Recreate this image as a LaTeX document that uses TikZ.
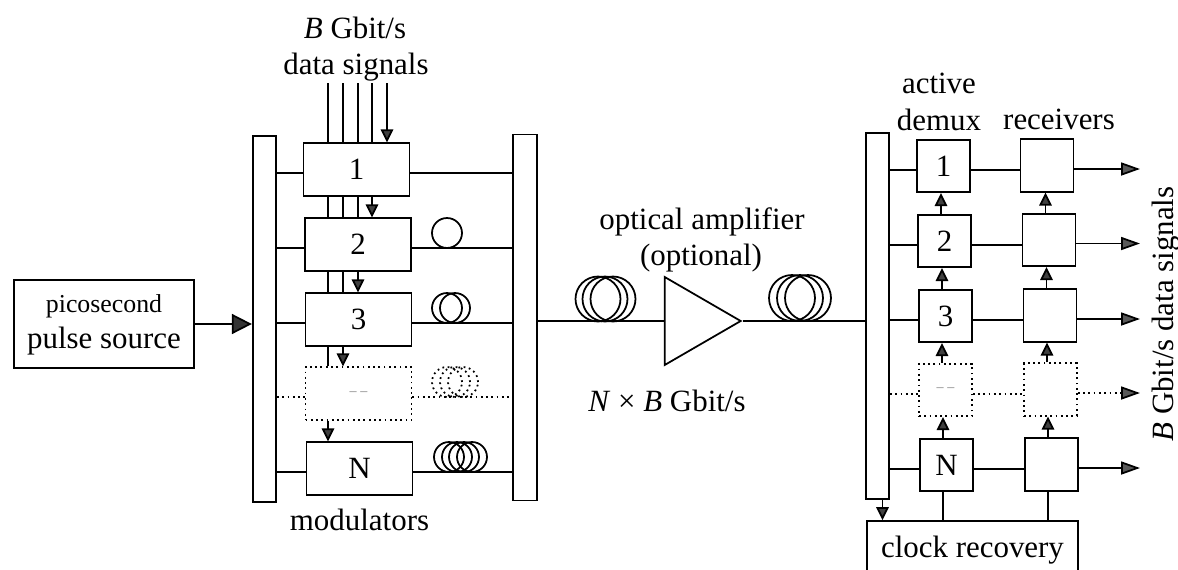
\documentclass[tikz,border=0pt]{standalone}
\usepackage{fontspec}
\setmainfont{Liberation Serif}
\usetikzlibrary{positioning, arrows.meta, shapes.geometric}

\tikzset{
    every node/.style={font=\fontsize{17.6}{21}\selectfont, inner sep=0pt},
    lab/.style={anchor=base},
    barbox/.style={draw, minimum width=0.47cm, minimum height=7.32cm},
    modbox/.style={draw, minimum width=2.12cm, minimum height=1.05cm},
    demuxbox/.style={draw, minimum width=1.06cm, minimum height=1.05cm},
    arr/.style={-{Triangle[length=0.26cm, width=0.25cm, fill=black!75]}},
    outarr/.style={-{Triangle[length=0.38cm, width=0.26cm, fill=black!65]}},
    bigarr/.style={-{Triangle[length=0.4cm, width=0.4cm, fill=black!80]}}
}
\newcommand{\gapmark}{{\fontsize{8}{9}\selectfont\color{gray}-- --}}

\begin{document}
\begin{tikzpicture}[x=0.02cm, y=-0.02cm, line width=1pt]
    \clip[use as bounding box] (0,0) rectangle (1178,569);

    % Pulse source and couplers
    \node[draw, minimum width=3.6cm, minimum height=1.76cm] (source) at (104,324) {};
    \node[lab, font=\fontsize{14.7}{18}\selectfont] (pico) at (104,312) {picosecond};
    \node[lab] (pulse) at (104,348) {pulse source};
    \node[barbox] (lbar) at (264.5,319) {};
    \node[barbox] (rbar) at (525,317.5) {};
    \node[barbox] (dbar) at (877.5,316) {};

    % Modulators
    \foreach \i/\x/\y/\s/\t in {1/356.5/169.5/solid/1, 2/358/244.5/solid/2, 3/358.5/319.5/solid/3,
                                4/358.5/393.5/dotted/\gapmark, 5/359.5/468.5/solid/N} {
        \node[modbox, \s] (m\i) at (\x,\y) {\t};
        \draw[\s] ([yshift=-0.07cm]lbar.east |- m\i.west) -- ([yshift=-0.07cm]m\i.west);
        \draw[\s] ([yshift=-0.07cm]m\i.east) -- ([yshift=-0.07cm]rbar.west |- m\i.east);
    }

    % Data signals
    \coordinate (d1) at (328,83);
    \coordinate (d2) at (343,83);
    \coordinate (d3) at (358,83);
    \coordinate (d4) at (372,83);
    \coordinate (d5) at (387,83);
    \foreach \d in {1,2,3,4} {
        \draw (d\d) -- (d\d |- m1.north);
    }
    \draw[arr] (d5) -- (d5 |- m1.north);
    \foreach \d/\a/\b in {1/1/2, 1/2/3, 1/3/4, 2/1/2, 2/2/3, 3/1/2} {
        \draw (d\d |- m\a.south) -- (d\d |- m\b.north);
    }
    \foreach \d/\a/\b in {1/4/5, 2/3/4, 3/2/3, 4/1/2} {
        \draw[arr] (d\d |- m\a.south) -- (d\d |- m\b.north);
    }

    % Fibre delay coils
    \foreach \x/\y/\r/\s in {447/233/0.3/solid, 447/308/0.3/solid, 455/308/0.3/solid,
                             447/382/0.3/dotted, 455/382/0.3/dotted, 463/382/0.3/dotted,
                             449/457/0.3/solid, 457/457/0.3/solid, 464/457/0.3/solid, 472/457/0.3/solid,
                             598/299/0.45/solid, 605/299/0.45/solid, 613/299/0.45/solid,
                             792/298/0.46/solid, 800/298/0.46/solid, 808/298/0.46/solid} {
        \draw[\s] (\x,\y) circle[radius=\r cm];
    }

    % Amplifier
    \node[draw, isosceles triangle, isosceles triangle stretches, shape border rotate=0,
          minimum width=1.76cm, minimum height=1.52cm, anchor=apex] (amp) at (743,321) {};
    \draw (rbar.east |- amp.apex) -- (amp.lower side);
    \draw (amp.apex) -- (dbar.west |- amp.apex);

    % Demux and receivers
    \foreach \i/\x/\y/\rx/\ry/\s/\t in {1/943.5/166/1047/165.5/solid/1, 2/944.5/241/1049/240/solid/2,
                                        3/945.5/316/1050/315.5/solid/3, 4/945.5/390/1050.5/389.5/dotted/\gapmark,
                                        5/946.5/465/1051.5/464.5/solid/N} {
        \node[demuxbox, \s] (x\i) at (\x,\y) {\t};
        \node[demuxbox, \s] (r\i) at (\rx,\ry) {};
        \coordinate (o\i) at (1140,\ry+3.5);
        \draw[\s] ([yshift=-0.08cm]dbar.east |- x\i.west) -- ([yshift=-0.08cm]x\i.west);
        \draw[\s] ([yshift=-0.08cm]x\i.east) -- ([yshift=-0.08cm]x\i.east -| r\i.west);
        \draw[outarr, \s] (o\i -| r\i.east) -- (o\i);
    }
    \foreach \a/\b in {5/4, 4/3, 3/2, 2/1} {
        \draw[arr] ([xshift=-0.07cm]x\a.north) -- ([xshift=-0.07cm]x\a.north |- x\b.south);
        \draw[arr] ([xshift=-0.07cm]r\a.north) -- ([xshift=-0.07cm]r\a.north |- r\b.south);
    }

    % Clock recovery
    \node[draw, minimum width=4.22cm, minimum height=1.16cm] (clock) at (972.5,550) {clock recovery};
    \draw[arr] ([xshift=0.1cm]dbar.south) -- ([xshift=0.1cm]dbar.south |- clock.north);
    \draw ([xshift=-0.07cm]x5.south) -- ([xshift=-0.07cm]x5.south |- clock.north);
    \draw ([xshift=-0.07cm]r5.south) -- ([xshift=-0.07cm]r5.south |- clock.north);

    \draw[bigarr] (source.east) -- (lbar.west |- source.east);

    % Labels
    \node[lab] (rate) at (355,38) {\textit{B} Gbit/s};
    \node[lab] (data) at (356,74) {data signals};
    \node[lab] (mods) at (359.5,530) {modulators};
    \node[lab] (ampname) at (702,229) {optical amplifier};
    \node[lab] (ampopt) at (701,265) {(optional)};
    \node[lab] (total) at (667,411) {\textit{N} × \textit{B} Gbit/s};
    \node[lab] (active) at (939,93) {active};
    \node[lab] (demux) at (939,130) {demux};
    \node[lab] (recv) at (1059,129) {receivers};
    \node[lab, rotate=90] (outrate) at (1173,314) {\textit{B} Gbit/s data signals};
\end{tikzpicture}
\end{document}
